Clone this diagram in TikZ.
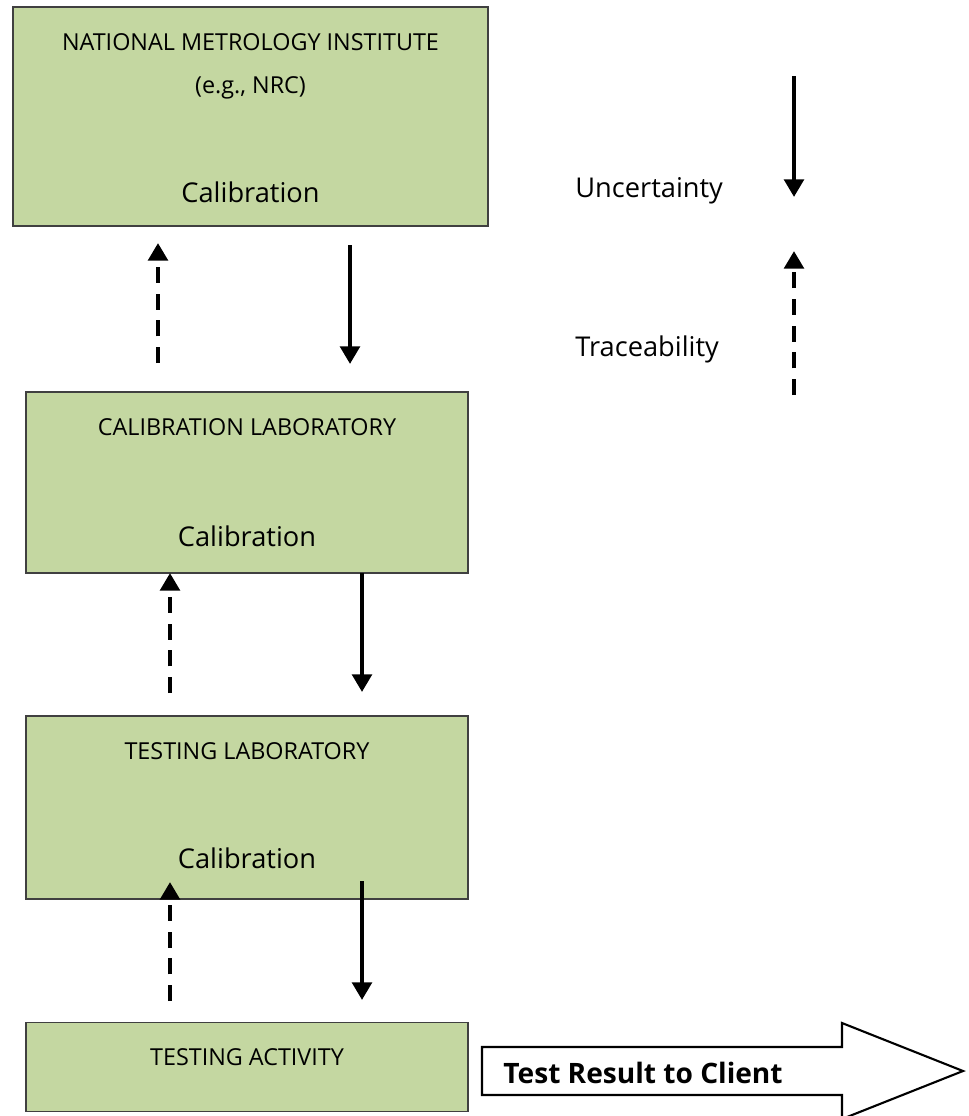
\documentclass[tikz,border=0pt]{standalone}
\usepackage{fontspec}
\setmainfont{Open Sans}
\usetikzlibrary{arrows.meta}
\definecolor{boxgreen}{RGB}{196,215,161}
\definecolor{boxline}{RGB}{64,64,64}

\begin{document}
\begin{tikzpicture}[x=0.02cm, y=-0.02cm,
    box/.style={draw=boxline, line width=0.7pt, fill=boxgreen, inner sep=0pt},
    caps/.style={anchor=base, inner sep=0pt, font=\fontsize{13.3}{16}\selectfont},
    label/.style={anchor=base, inner sep=0pt, font=\fontsize{15.5}{18}\selectfont},
    down/.style={-{Triangle[width=11pt,length=10pt]}, line width=2.4pt},
    up/.style={down, dash pattern=on 9pt off 6.2pt}
  ]
    \useasboundingbox (0,0) rectangle (969,1116);

    % boxes
    \node[box, minimum width=9.5cm,  minimum height=4.38cm] (nmi) at (250.5,116.5) {};
    \node[box, minimum width=8.84cm, minimum height=3.62cm] (cal) at (247,482.5) {};
    \node[box, minimum width=8.84cm, minimum height=3.66cm] (tst) at (247,807.5) {};
    \node[box, minimum width=8.84cm, minimum height=1.78cm] (act) at (247,1067) {};

    \node[caps]  (nmit) at (250.5,50)  {NATIONAL METROLOGY INSTITUTE};
    \node[caps]  (nmie) at (250.5,93)  {(e.g., NRC)};
    \node[label] (nmic) at (250.5,202) {Calibration};
    \node[caps]  (calt) at (247,435)   {CALIBRATION LABORATORY};
    \node[label] (calc) at (247,546)   {Calibration};
    \node[caps]  (tstt) at (247,759)   {TESTING LABORATORY};
    \node[label] (tstc) at (247,868)   {Calibration};
    \node[caps]  (actt) at (247,1065)  {TESTING ACTIVITY};

    % legend
    \node[label, anchor=base west] (unc) at (575,197) {Uncertainty};
    \node[label, anchor=base west] (tra) at (575,356) {Traceability};

    % arrow ends
    \coordinate (u1a) at (158,363);  \coordinate (u1b) at (158,243);
    \coordinate (d1a) at (350,245);  \coordinate (d1b) at (350,364);
    \coordinate (u2a) at (170,693);  \coordinate (u2b) at (170,573);
    \coordinate (d2a) at (362,573);  \coordinate (d2b) at (362,692);
    \coordinate (u3a) at (170,1001); \coordinate (u3b) at (170,882);
    \coordinate (d3a) at (362,881);  \coordinate (d3b) at (362,1000);
    \coordinate (lda) at (794,76);   \coordinate (ldb) at (794,197);
    \coordinate (lua) at (794,395);  \coordinate (lub) at (794,251);

    \draw[up]   (u1a) -- (u1b);
    \draw[down] (d1a) -- (d1b);
    \draw[up]   (u2a) -- (u2b);
    \draw[down] (d2a) -- (d2b);
    \draw[up]   (u3a) -- (u3b);
    \draw[down] (d3a) -- (d3b);
    \draw[down] (lda) -- (ldb);
    \draw[up]   (lua) -- (lub);

    % result arrow
    \draw[line width=1.2pt, fill=white] (482,1047) -- (842,1047) -- (842,1023) -- (963,1071)
      -- (842,1119) -- (842,1095) -- (482,1095) -- cycle;
    \node[anchor=base west, inner sep=0pt, font=\fontsize{16}{19}\selectfont\bfseries]
      (res) at (503,1083) {Test Result to Client};
  \end{tikzpicture}
\end{document}
